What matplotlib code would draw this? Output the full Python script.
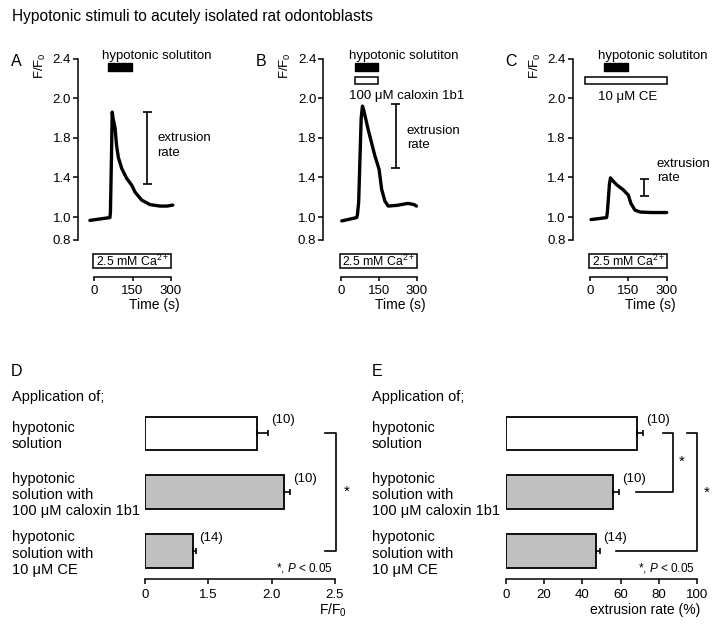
import numpy as np
import matplotlib
matplotlib.use("Agg")
import matplotlib.pyplot as plt
from matplotlib.patches import Rectangle
import matplotlib.transforms as mtransforms

plt.rcParams['font.family'] = ['Liberation Sans', 'DejaVu Sans']
plt.rcParams['mathtext.fontset'] = 'custom'
plt.rcParams['mathtext.rm'] = 'Liberation Sans'
plt.rcParams['mathtext.it'] = 'Liberation Sans:italic'
plt.rcParams['mathtext.bf'] = 'Liberation Sans:bold'

W, H = 719, 628

# ---- traces (time in s, F/F0) ----
time_a = [-16, 62, 64, 68, 71, 74, 82, 88, 95, 108, 127, 140, 147, 160, 186, 218, 257, 285, 307]
ratio_a = [0.97, 0.995, 1.05, 1.6, 1.93, 1.90, 1.85, 1.72, 1.60, 1.49, 1.39, 1.345, 1.32, 1.25, 1.17, 1.125, 1.11, 1.11, 1.12]
time_b = [3, 62, 65, 70, 80, 85, 90, 108, 134, 151, 161, 174, 187, 220, 266, 290, 299]
ratio_b = [0.965, 0.995, 1.02, 1.15, 1.90, 1.96, 1.94, 1.84, 1.62, 1.48, 1.28, 1.16, 1.11, 1.117, 1.137, 1.125, 1.11]
time_c = [4, 65, 68, 76, 80, 84, 104, 130, 150, 160, 176, 196, 241, 300]
ratio_c = [0.977, 0.995, 1.05, 1.33, 1.394, 1.38, 1.325, 1.274, 1.22, 1.137, 1.069, 1.05, 1.045, 1.045]

stim_on, stim_off = 55, 148
# extrusion rate bars: time, low, high
extr_a = (208, 1.337, 1.93)
extr_b = (216, 1.49, 1.97)
extr_c = (212, 1.21, 1.384)

fy_ticks = [0.8, 1.0, 1.4, 1.8, 2.0, 2.4]
fy_pos = [0, 22.5, 62.2, 101.7, 141.3, 181]
time_ticks = [0, 150, 300]

# ---- summary bars ----
groups = ["hypotonic\nsolution",
          "hypotonic\nsolution with\n100 μM caloxin 1b1",
          "hypotonic\nsolution with\n10 μM CE"]
n_cells = [10, 10, 14]
peak_mean = [1.884, 2.097, 1.144]
peak_sem = [0.087, 0.048, 0.064]
ext_mean = [68.6, 56.0, 47.1]
ext_sem = [3.1, 3.2, 2.1]
d_ticks = [0, 1.5, 2.0, 2.5]
d_pos = [0, 1, 2, 3]
e_ticks = [0, 20, 40, 60, 80, 100]
bar_colors = ['white', '#c0c0c0', '#c0c0c0']


def fig_rect(x0, y0, x1, y1):
    return [x0 / W, 1 - y1 / H, (x1 - x0) / W, (y1 - y0) / H]


def fx(x):
    return x / W


def fy(y):
    return 1 - y / H


def yfwd(v):
    return np.interp(v, fy_ticks, fy_pos)


def yinv(p):
    return np.interp(p, fy_pos, fy_ticks)


def dfwd(v):
    return np.interp(v, d_ticks, d_pos)


def dinv(p):
    return np.interp(p, d_pos, d_ticks)


fig = plt.figure(figsize=(W / 100, H / 100), dpi=100)

fig.text(fx(12), fy(16), "Hypotonic stimuli to acutely isolated rat odontoblasts",
         ha='left', va='center', fontsize=11.2)

TOP, BOT = 58.5, 239.5


def draw_trace(letter, ax_x, t0_px, t300_px, times, ratios, ext, ext_txt):
    s = 300.0 / (t300_px - t0_px)
    ax = fig.add_axes(fig_rect(ax_x, TOP, ax_x + 130, BOT))
    ax.patch.set_visible(False)
    ax.set_yscale('function', functions=(yfwd, yinv))
    ax.set_ylim(0.8, 2.4)
    ax.set_xlim((ax_x - t0_px) * s, (ax_x + 130 - t0_px) * s)
    ax.plot(times, ratios, color='black', lw=2.4, solid_joinstyle='round',
            solid_capstyle='round', clip_on=False)
    for side in ['top', 'right']:
        ax.spines[side].set_visible(False)
    ax.spines['left'].set_bounds(0.8, 2.4)
    ax.spines['bottom'].set_bounds(0, 300)
    ax.spines['bottom'].set_position(('outward', (276.5 - BOT) * 0.72))
    for side in ['left', 'bottom']:
        ax.spines[side].set_linewidth(1.1)
    ax.set_yticks(fy_ticks, [f"{v:.1f}" for v in fy_ticks])
    ax.set_xticks(time_ticks)
    ax.tick_params(axis='y', length=3.5, width=1.1, pad=1.5, labelsize=9.5)
    ax.tick_params(axis='x', length=3, width=1.1, pad=3, labelsize=9.5)

    def yf(ypx):
        return (BOT - ypx) / (BOT - TOP)

    tr = ax.get_xaxis_transform()
    ax.add_patch(Rectangle((stim_on, yf(70.5)), stim_off - stim_on, yf(63) - yf(70.5),
                           transform=tr, color='black', clip_on=False))
    ax.text(stim_on - 6 * s, yf(58.5), "hypotonic solutiton", transform=tr,
            ha='left', va='baseline', fontsize=9.5)
    ax.add_patch(Rectangle((-3, yf(268)), 303, yf(254) - yf(268), transform=tr,
                           fill=False, ec='black', lw=1.1, clip_on=False))
    ax.text(149, yf(261.5), "2.5 mM Ca$^{2+}$", transform=tr, ha='center',
            va='center', fontsize=8.8)
    t_e, lo, hi = ext
    ax.vlines(t_e, lo, hi, color='black', lw=1.2)
    ax.hlines([lo, hi], t_e - 4.5 * s, t_e + 4.5 * s, color='black', lw=1.2)
    ax.text((ext_txt[0] - t0_px) * s, yf(ext_txt[1]), "extrusion\nrate", transform=tr,
            ha='left', va='center', fontsize=9.5, linespacing=1.3)

    fig.text(fx(ax_x - 62), fy(62), letter, ha='center', va='center', fontsize=11.5)
    fig.text(fx(ax_x - 37.5), fy(66), "F/F$_0$", rotation=90, ha='center',
             va='center', fontsize=9.5)
    fig.text(fx(t300_px + 9), fy(305), "Time (s)", ha='right', va='center', fontsize=10)
    return ax, s, tr, yf


axA, sA, trA, yfA = draw_trace("A", 78, 94, 171, time_a, ratio_a, extr_a, (157, 145.5))
axB, sB, trB, yfB = draw_trace("B", 323.3, 341, 416.7, time_b, ratio_b, extr_b, (406.7, 138))
axC, sC, trC, yfC = draw_trace("C", 572.7, 590, 666.7, time_c, ratio_c, extr_c, (656.7, 171))

# caloxin bar in B
axB.add_patch(Rectangle((stim_on, yfB(84)), stim_off - stim_on, yfB(77.3) - yfB(84),
                        transform=trB, fc='white', ec='black', lw=1.1, clip_on=False))
axB.text(stim_on - 6 * sB, yfB(96), "100 μM caloxin 1b1", transform=trB,
         ha='left', va='center', fontsize=9.5)
# CE bar in C
axC.add_patch(Rectangle((-18, yfC(84)), 318, yfC(77.3) - yfC(84),
                        transform=trC, fc='white', ec='black', lw=1.1, clip_on=False))
axC.text(146, yfC(96.7), "10 μM CE", transform=trC, ha='center', va='center', fontsize=9.5)


# ---- D and E ----
def draw_bars(letter, x0, x1, means, sems, xlabel, xlabel_right):
    ax = fig.add_axes(fig_rect(x0, 404, x1, 579))
    ax.patch.set_visible(False)
    ax.barh(range(3), means, height=0.57, color=bar_colors, edgecolor='black', lw=1.3,
            xerr=[[0, 0, 0], sems],
            error_kw=dict(ecolor='black', elinewidth=1.2, capsize=2, capthick=1.2))
    ax.set_ylim(2.477, -0.5)
    for side in ['top', 'right', 'left']:
        ax.spines[side].set_visible(False)
    ax.spines['bottom'].set_linewidth(1.1)
    ax.set_yticks(range(3), groups)
    lx = 12 if letter == 'D' else 372
    ax.tick_params(axis='y', length=0, pad=(x0 - lx) * 0.72, labelsize=10.5)
    for lbl in ax.get_yticklabels():
        lbl.set_ha('left')
        lbl.set_linespacing(1.2)
    ax.tick_params(axis='x', length=3.5, width=1.1, pad=4, labelsize=9.5)
    for i, (m, e, n) in enumerate(zip(means, sems, n_cells)):
        ax.annotate(f"({n})", (m + e, i), xytext=(2, 9.5), textcoords='offset points',
                    ha='left', va='center', fontsize=9.5)
    fig.text(fx(lx + 5), fy(372), letter, ha='center', va='center', fontsize=11.5)
    fig.text(fx(lx), fy(397), "Application of;", ha='left', va='center', fontsize=10.5)
    fig.text(fx(xlabel_right), fy(610), xlabel, ha='right', va='center', fontsize=10)
    return ax


axD = draw_bars("D", 145, 335, peak_mean, peak_sem, "F/F$_0$", 347)
axD.set_xscale('function', functions=(dfwd, dinv))
axD.set_xlim(0, 2.5)
axD.set_xticks(d_ticks, ["0", "1.5", "2.0", "2.5"])
bD = mtransforms.blended_transform_factory(axD.transAxes, axD.transData)
axD.plot([(325 - 145) / 190, 1.005, 1.005, (325 - 145) / 190], [0, 0, 2, 2],
         color='black', lw=1.2, transform=bD, clip_on=False)
axD.text((347 - 145) / 190, 1.0, "*", transform=bD, ha='center', va='center', fontsize=11)
axD.text(0.99, 2.29, "*, $\\it{P}$ < 0.05", transform=bD, ha='right', va='center', fontsize=8.5)

axE = draw_bars("E", 505.7, 697.3, ext_mean, ext_sem, "extrusion rate (%)", 700)
axE.set_xlim(0, 100)
axE.set_xticks(e_ticks)
axE.plot([82, 87.2, 87.2, 68], [0, 0, 1, 1], color='black', lw=1.2, clip_on=False)
axE.plot([94.8, 99.7, 99.7, 57.6], [0, 0, 2, 2], color='black', lw=1.2, clip_on=False)
axE.text(92, 0.485, "*", ha='center', va='center', fontsize=11)
axE.text(105, 1.01, "*", ha='center', va='center', fontsize=11, clip_on=False)
axE.text(98.5, 2.29, "*, $\\it{P}$ < 0.05", ha='right', va='center', fontsize=8.5)

fig.savefig("out.png", dpi=100)
